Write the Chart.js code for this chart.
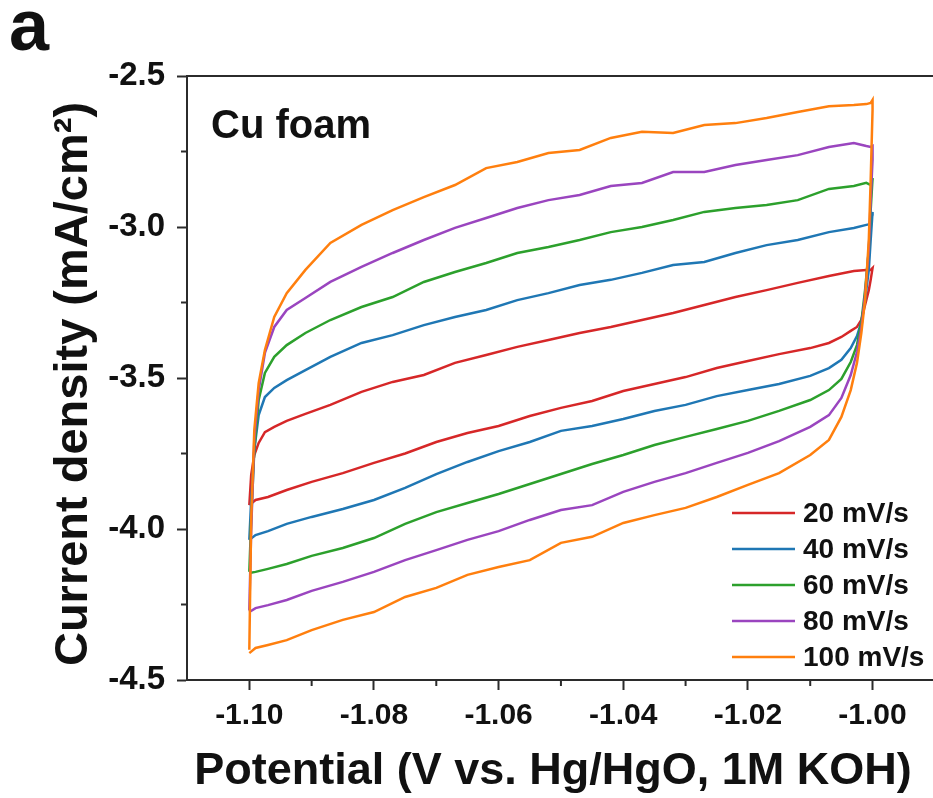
<!DOCTYPE html>
<html>
<head>
<meta charset="utf-8">
<script src="https://cdn.jsdelivr.net/npm/chart.js@4.4.1/dist/chart.umd.min.js"></script>
<style>
  html, body { margin: 0; padding: 0; background: #fff; }
  canvas { display: block; }
</style>
</head>
<body>
<canvas id="cv" width="933" height="798"></canvas>
<script>
// potential grid of the cathodic -> anodic sweep (bottom branch), V vs. Hg/HgO
const potentialFwd = [-1.1000, -1.0990, -1.0970, -1.0940, -1.0900, -1.0850, -1.0800, -1.0750, -1.0700, -1.0650,
  -1.0600, -1.0550, -1.0500, -1.0450, -1.0400, -1.0350, -1.0300, -1.0250, -1.0200, -1.0150,
  -1.0100, -1.0070, -1.0050, -1.0035, -1.0025, -1.0018, -1.0012, -1.0006, -1.0003, -1.0000];
// return sweep (top branch)
const potentialRev = [-1.0000, -1.0003, -1.0010, -1.0030, -1.0070, -1.0120, -1.0170, -1.0220, -1.0270, -1.0320,
  -1.0370, -1.0420, -1.0470, -1.0520, -1.0570, -1.0620, -1.0670, -1.0720, -1.0770, -1.0820,
  -1.0870, -1.0910, -1.0940, -1.0960, -1.0975, -1.0985, -1.0992, -1.0997, -1.1000];

// current density, mA/cm2
const j20Fwd = [-3.921, -3.904, -3.894, -3.871, -3.844, -3.815, -3.781, -3.750, -3.712, -3.682,
  -3.659, -3.626, -3.599, -3.576, -3.543, -3.520, -3.497, -3.467, -3.444, -3.421,
  -3.401, -3.384, -3.364, -3.344, -3.331, -3.308, -3.258, -3.209, -3.175, -3.136];
const j20Rev = [-3.136, -3.142, -3.142, -3.146, -3.162, -3.185, -3.209, -3.232, -3.258, -3.285,
  -3.308, -3.331, -3.351, -3.374, -3.397, -3.424, -3.450, -3.490, -3.513, -3.546,
  -3.589, -3.619, -3.642, -3.662, -3.679, -3.715, -3.755, -3.821, -3.921];

const j40Fwd = [-4.036, -4.020, -4.007, -3.983, -3.960, -3.934, -3.904, -3.864, -3.818, -3.778,
  -3.742, -3.712, -3.675, -3.659, -3.636, -3.609, -3.589, -3.560, -3.540, -3.520,
  -3.493, -3.467, -3.440, -3.401, -3.361, -3.315, -3.242, -3.142, -3.043, -2.950];
const j40Rev = [-2.960, -2.990, -2.993, -3.003, -3.017, -3.043, -3.060, -3.086, -3.116, -3.126,
  -3.152, -3.175, -3.192, -3.219, -3.242, -3.275, -3.298, -3.325, -3.358, -3.384,
  -3.430, -3.474, -3.507, -3.533, -3.563, -3.623, -3.738, -3.904, -4.036];

const j60Fwd = [-4.146, -4.142, -4.132, -4.116, -4.089, -4.063, -4.030, -3.983, -3.944, -3.914,
  -3.884, -3.851, -3.818, -3.785, -3.755, -3.722, -3.695, -3.669, -3.642, -3.609,
  -3.573, -3.540, -3.503, -3.447, -3.391, -3.315, -3.209, -3.076, -2.944, -2.838];
const j60Rev = [-2.844, -2.861, -2.854, -2.864, -2.874, -2.911, -2.927, -2.937, -2.950, -2.977,
  -3.000, -3.017, -3.043, -3.066, -3.086, -3.119, -3.149, -3.182, -3.232, -3.265,
  -3.308, -3.351, -3.391, -3.430, -3.483, -3.573, -3.738, -3.970, -4.142];

const j80Fwd = [-4.275, -4.262, -4.252, -4.235, -4.205, -4.175, -4.142, -4.103, -4.070, -4.036,
  -4.007, -3.970, -3.937, -3.921, -3.877, -3.844, -3.815, -3.781, -3.748, -3.709,
  -3.662, -3.623, -3.566, -3.490, -3.414, -3.334, -3.225, -3.076, -2.911, -2.778];
const j80Rev = [-2.732, -2.735, -2.732, -2.722, -2.735, -2.762, -2.778, -2.795, -2.818, -2.818,
  -2.854, -2.864, -2.894, -2.911, -2.937, -2.970, -3.003, -3.043, -3.086, -3.132,
  -3.182, -3.235, -3.275, -3.331, -3.417, -3.540, -3.705, -4.003, -4.270];

const j100Fwd = [-4.411, -4.394, -4.384, -4.368, -4.335, -4.301, -4.275, -4.225, -4.195, -4.152,
  -4.126, -4.103, -4.046, -4.026, -3.980, -3.954, -3.930, -3.894, -3.854, -3.815,
  -3.755, -3.705, -3.629, -3.540, -3.450, -3.351, -3.242, -3.043, -2.844, -2.613];
const j100Rev = [-2.579, -2.589, -2.593, -2.596, -2.600, -2.619, -2.639, -2.656, -2.662, -2.689,
  -2.685, -2.705, -2.745, -2.755, -2.785, -2.805, -2.861, -2.901, -2.944, -2.993,
  -3.053, -3.142, -3.219, -3.298, -3.407, -3.517, -3.672, -3.970, -4.400];

const scanRates = ['20 mV/s', '40 mV/s', '60 mV/s', '80 mV/s', '100 mV/s'];
const lineColors = ['#d62728', '#1f77b4', '#2ca02c', '#9a45bf', '#ff7f0e'];
const fwdSets = [j20Fwd, j40Fwd, j60Fwd, j80Fwd, j100Fwd];
const revSets = [j20Rev, j40Rev, j60Rev, j80Rev, j100Rev];

const xTitle = 'Potential (V vs. Hg/HgO, 1M KOH)';
const yTitle = 'Current density (mA/cm²)';

const FONT = '"Liberation Sans", Arial, Helvetica, sans-serif';
const INK = '#111';
const AXIS = '#2b2b2b';

function loop(fwd, rev){
  return potentialFwd.map((v, i) => ({ x: v, y: fwd[i] }))
    .concat(potentialRev.map((v, i) => ({ x: v, y: rev[i] })));
}

const datasets = scanRates.map((label, i) => ({
  label,
  data: loop(fwdSets[i], revSets[i]),
  borderColor: lineColors[i],
  backgroundColor: lineColors[i],
  borderWidth: 2.5,
  pointRadius: 0,
  showLine: true,
  tension: 0,
  order: scanRates.length - i
}));

// top frame, minor ticks, legend, axis titles and panel labels
const extras = {
  id: 'extras',
  afterDraw(chart){
    const { ctx, chartArea: a, scales: { x, y } } = chart;
    ctx.save();
    ctx.strokeStyle = AXIS;
    ctx.lineWidth = 2;
    ctx.beginPath();
    ctx.moveTo(a.left, a.top);
    ctx.lineTo(a.right + 2, a.top);
    ctx.stroke();

    // minor ticks halfway between majors
    const xt = x.ticks.map(t => t.value);
    const half = (xt[1] - xt[0]) / 2;
    [xt[0] - half].concat(xt.map(v => v + half)).forEach(v => {
      const px = x.getPixelForValue(v);
      if (px <= a.left + 1 || px > a.right) return;
      ctx.beginPath(); ctx.moveTo(px, a.bottom); ctx.lineTo(px, a.bottom + 6); ctx.stroke();
    });
    const yt = y.ticks.map(t => t.value);
    for (let i = 0; i < yt.length - 1; i++){
      const py = y.getPixelForValue((yt[i] + yt[i + 1]) / 2);
      ctx.beginPath(); ctx.moveTo(a.left, py); ctx.lineTo(a.left - 6, py); ctx.stroke();
    }

    // legend
    ctx.font = `bold 28px ${FONT}`;
    ctx.textBaseline = 'middle';
    ctx.textAlign = 'left';
    chart.data.datasets.forEach((ds, i) => {
      const ly = 513 + i * 36;
      ctx.strokeStyle = ds.borderColor;
      ctx.lineWidth = 2.5;
      ctx.beginPath(); ctx.moveTo(732, ly); ctx.lineTo(795, ly); ctx.stroke();
      ctx.fillStyle = INK;
      ctx.fillText(ds.label, 803, ly + 1);
    });

    ctx.fillStyle = INK;
    // axis titles
    ctx.textAlign = 'center';
    ctx.font = `bold 45px ${FONT}`;
    ctx.fillText(xTitle, 553, 772);
    ctx.save();
    ctx.translate(74, 384);
    ctx.rotate(-Math.PI / 2);
    ctx.font = `bold 47px ${FONT}`;
    ctx.fillText(yTitle, 0, 0);
    ctx.restore();

    ctx.textAlign = 'left';
    ctx.textBaseline = 'alphabetic';
    ctx.font = `bold 40px ${FONT}`;
    ctx.fillText('Cu foam', 211, 138);
    ctx.font = `bold 72px ${FONT}`;
    ctx.fillText('a', 9, 50);
    ctx.restore();
  }
};

new Chart(document.getElementById('cv'), {
  type: 'scatter',
  data: { datasets },
  options: {
    responsive: false,
    animation: false,
    devicePixelRatio: 1,
    layout: { padding: { left: 0, right: 0, top: 76, bottom: 0 } },
    plugins: { legend: { display: false }, tooltip: { enabled: false } },
    scales: {
      x: {
        type: 'linear',
        min: -1.11,
        max: -0.9903,
        afterFit: s => { s.height = 118; },
        border: { color: AXIS, width: 2 },
        grid: { drawOnChartArea: false, tickLength: 10, tickColor: AXIS, tickWidth: 2 },
        ticks: {
          stepSize: 0.02,
          includeBounds: false,
          autoSkip: false,
          maxRotation: 0,
          padding: 8,
          color: INK,
          font: { family: FONT, size: 30, weight: 'bold' },
          callback: v => v.toFixed(2)
        },
        title: { display: false }
      },
      y: {
        type: 'linear',
        min: -4.5,
        max: -2.5,
        afterFit: s => { s.width = 187; },
        border: { color: AXIS, width: 2 },
        grid: { drawOnChartArea: false, tickLength: 10, tickColor: AXIS, tickWidth: 2 },
        ticks: {
          stepSize: 0.5,
          padding: 12,
          color: INK,
          font: { family: FONT, size: 33, weight: 'bold' },
          callback: v => v.toFixed(1)
        },
        title: { display: false }
      }
    }
  },
  plugins: [extras]
});
</script>
</body>
</html>
